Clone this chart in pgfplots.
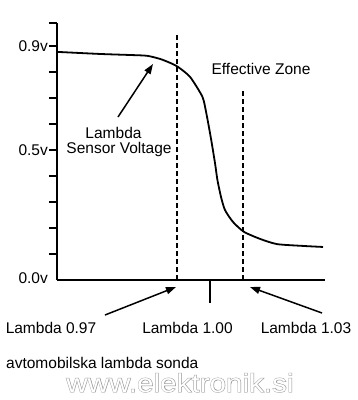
\documentclass[border=0pt]{standalone}
\usepackage{fontspec}
\setmainfont{Liberation Sans}
\newfontfamily\wmbold[FakeBold=3]{Liberation Sans}
\usepackage{graphicx}
\usepackage{pgfplots}
\pgfplotsset{compat=1.18}
\usetikzlibrary{arrows.meta}
\begin{document}
\begin{tikzpicture}[font=\fontsize{15.5bp}{18bp}\selectfont]
\useasboundingbox[fill=white] (0,0) rectangle (358bp,-400bp);
\begin{axis}[
  at={(57bp,-280bp)}, anchor=south west,
  scale only axis, width=268bp, height=257bp,
  xmin=0.8609, xmax=1.1045, ymin=0, ymax=0.988,
  axis x line=bottom, axis y line=left,
  axis line style={-, line width=2.5bp},
  xtick=\empty,
  ytick={0.1,0.2,0.3,0.4,0.5,0.6,0.7,0.8,0.9,0.988},
  yticklabels={,,,,\mbox{0.5v},,,,\mbox{0.9v},},
  tick align=outside, major tick length=8bp,
  ytick style={line width=2bp, black},
  yticklabel style={font=\fontsize{15.5bp}{18bp}\selectfont, inner sep=1bp},
  clip=false,
]
\addplot[black, line width=1.3bp, dash pattern=on 5bp off 3bp] coordinates {(0.97,0) (0.97,0.95)};
\addplot[black, line width=1.3bp, dash pattern=on 5bp off 3bp] coordinates {(1.03,0) (1.03,0.731)};
\addplot[black, line width=1.8bp, smooth, tension=0.4] coordinates {
(0.8609,0.877) (0.9,0.869) (0.9273,0.865) (0.9427,0.862) (0.9545,0.850)
(0.9636,0.835) (0.9709,0.819) (0.9818,0.781) (0.9930,0.705) (0.9964,0.646)
(1.0006,0.550) (1.0045,0.450) (1.0067,0.385) (1.0100,0.319) (1.0136,0.269)
(1.0209,0.223) (1.0309,0.185) (1.0455,0.158) (1.0609,0.138) (1.0845,0.131)
(1.1027,0.127)};
\coordinate (ctick) at (axis cs:1.0,0);
\end{axis}
\draw[line width=2.5bp] (ctick) -- ++(0,-23bp);
\node[anchor=east, inner sep=0] at (48bp,-278bp) {0.0v};
\node[anchor=base, inner sep=0] at (261bp,-74bp) {Effective Zone};
\node[anchor=base, inner sep=0] at (113.5bp,-138bp) {Lambda};
\node[anchor=base, inner sep=0] at (119bp,-153bp) {Sensor Voltage};
\draw[line width=1.5bp, -{Triangle[length=10bp,width=7bp]}] (118bp,-117bp) -- (153bp,-64bp);
\draw[line width=1.5bp, -{Triangle[length=10bp,width=7bp]}] (105bp,-315bp) -- (176bp,-287bp);
\draw[line width=1.5bp, -{Triangle[length=10bp,width=7bp]}] (322bp,-313bp) -- (250bp,-287bp);
\node[anchor=base, inner sep=0] at (51bp,-333bp) {Lambda 0.97};
\node[anchor=base, inner sep=0] at (187.5bp,-333bp) {Lambda 1.00};
\node[anchor=base, inner sep=0] at (306bp,-333bp) {Lambda 1.03};
\node[anchor=base, inner sep=0, text=gray!80] at (180bp,-392bp) {\fontsize{26bp}{30bp}\wmbold\scalebox{1.14}[1]{www.elektronik.si}};
\node[anchor=base, inner sep=0, text=white] at (180bp,-392bp) {\fontsize{26bp}{30bp}\selectfont\scalebox{1.14}[1]{www.elektronik.si}};
\node[anchor=base west, inner sep=0] at (6bp,-368bp) {avtomobilska lambda sonda};
\end{tikzpicture}
\end{document}
